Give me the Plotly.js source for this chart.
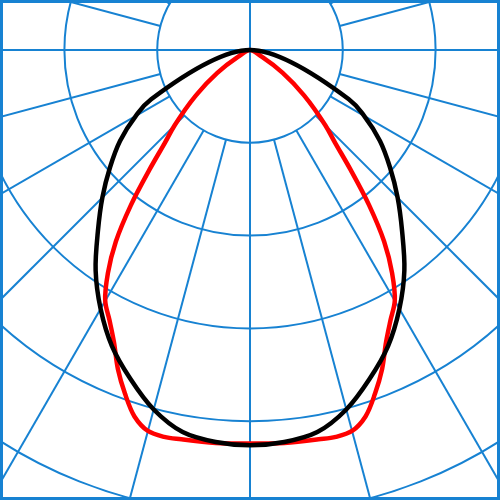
<!DOCTYPE html>
<html>
<head>
<meta charset="utf-8">
<script src="https://cdn.plot.ly/plotly-3.0.1.min.js"></script>
<style>
html, body { margin: 0; padding: 0; background: #fff; overflow: hidden; }
#chart { width: 500px; height: 500px; }
</style>
</head>
<body>
<div id="chart"></div>
<script>
// gamma = angle from nadir in degrees, positive to the right of the vertical axis
var gammaBlack = [90, 63.5, 60, 55, 50, 45, 40, 35, 30, 25, 20, 15, 10, 5, 0,
    -5, -10, -15, -20, -25, -30, -35, -40, -45, -50, -55, -60, -63.5, -90];
var intensityBlack = [0, 119, 142, 171, 197, 225, 255, 290, 322, 352, 377, 401, 418, 424, 426,
    424, 418, 401, 377, 352, 322, 290, 255, 225, 197, 171, 142, 119, 0];

var gammaRed = [65, 60, 55, 50, 45, 42.5, 40, 37.5, 35, 32.5, 30, 27.5, 25, 22.5, 20, 17.5, 15, 12.5, 10, 5, 0,
    -5, -10, -12.5, -15, -17.5, -20, -22.5, -25, -27.5, -30, -32.5, -35, -37.5, -40, -42.5, -45, -50, -55, -60, -65];
var intensityRed = [0, 15, 43, 76, 115, 136, 169, 211, 252, 285, 312, 328, 347, 372, 394, 414, 425, 427, 426, 425, 424,
    425, 426, 427, 425, 414, 394, 372, 347, 328, 312, 285, 252, 211, 169, 136, 115, 76, 43, 15, 0];

var ringValues = [100, 200, 300, 400, 500, 600, 700];
var spokeStep = 15;
var gridBlue = '#1782d2';

function toXY(gamma, r) {
    var x = [], y = [];
    for (var i = 0; i < gamma.length; i++) {
        var a = gamma[i] * Math.PI / 180;
        x.push(r[i] * Math.sin(a));
        y.push(-r[i] * Math.cos(a));
    }
    return {x: x, y: y};
}

var shapes = [];
ringValues.forEach(function (v) {
    shapes.push({
        type: 'circle', xref: 'x', yref: 'y', layer: 'below',
        x0: -v, x1: v, y0: -v, y1: v,
        line: {color: gridBlue, width: 2}
    });
});
for (var g = 0; g < 360; g += spokeStep) {
    var a = g * Math.PI / 180;
    var r0 = (g % 90 === 0) ? 0 : ringValues[0];
    var r1 = 900;
    shapes.push({
        type: 'line', xref: 'x', yref: 'y', layer: 'below',
        x0: r0 * Math.sin(a), y0: -r0 * Math.cos(a),
        x1: r1 * Math.sin(a), y1: -r1 * Math.cos(a),
        line: {color: gridBlue, width: 2}
    });
}
shapes.push({
    type: 'rect', xref: 'paper', yref: 'paper', layer: 'above',
    x0: 0, x1: 1, y0: 0, y1: 1,
    line: {color: gridBlue, width: 6}
});

var red = toXY(gammaRed, intensityRed);
var black = toXY(gammaBlack, intensityBlack);

var redTrace = {
    x: red.x, y: red.y, type: 'scatter', mode: 'lines',
    line: {color: '#ff0000', width: 4.5, shape: 'spline', smoothing: 1},
    hoverinfo: 'skip'
};
var blackTrace = {
    x: black.x, y: black.y, type: 'scatter', mode: 'lines',
    line: {color: '#000000', width: 4.5, shape: 'spline', smoothing: 1},
    hoverinfo: 'skip'
};

var layout = {
    width: 500,
    height: 500,
    margin: {l: 0, r: 0, t: 0, b: 0, pad: 0},
    paper_bgcolor: '#ffffff',
    plot_bgcolor: '#ffffff',
    showlegend: false,
    xaxis: {range: [-269.4, 269.4], visible: false, fixedrange: true},
    yaxis: {range: [-484.9, 53.9], visible: false, fixedrange: true},
    shapes: shapes
};

Plotly.newPlot('chart', [redTrace, blackTrace], layout, {displayModeBar: false, staticPlot: true});
</script>
</body>
</html>
